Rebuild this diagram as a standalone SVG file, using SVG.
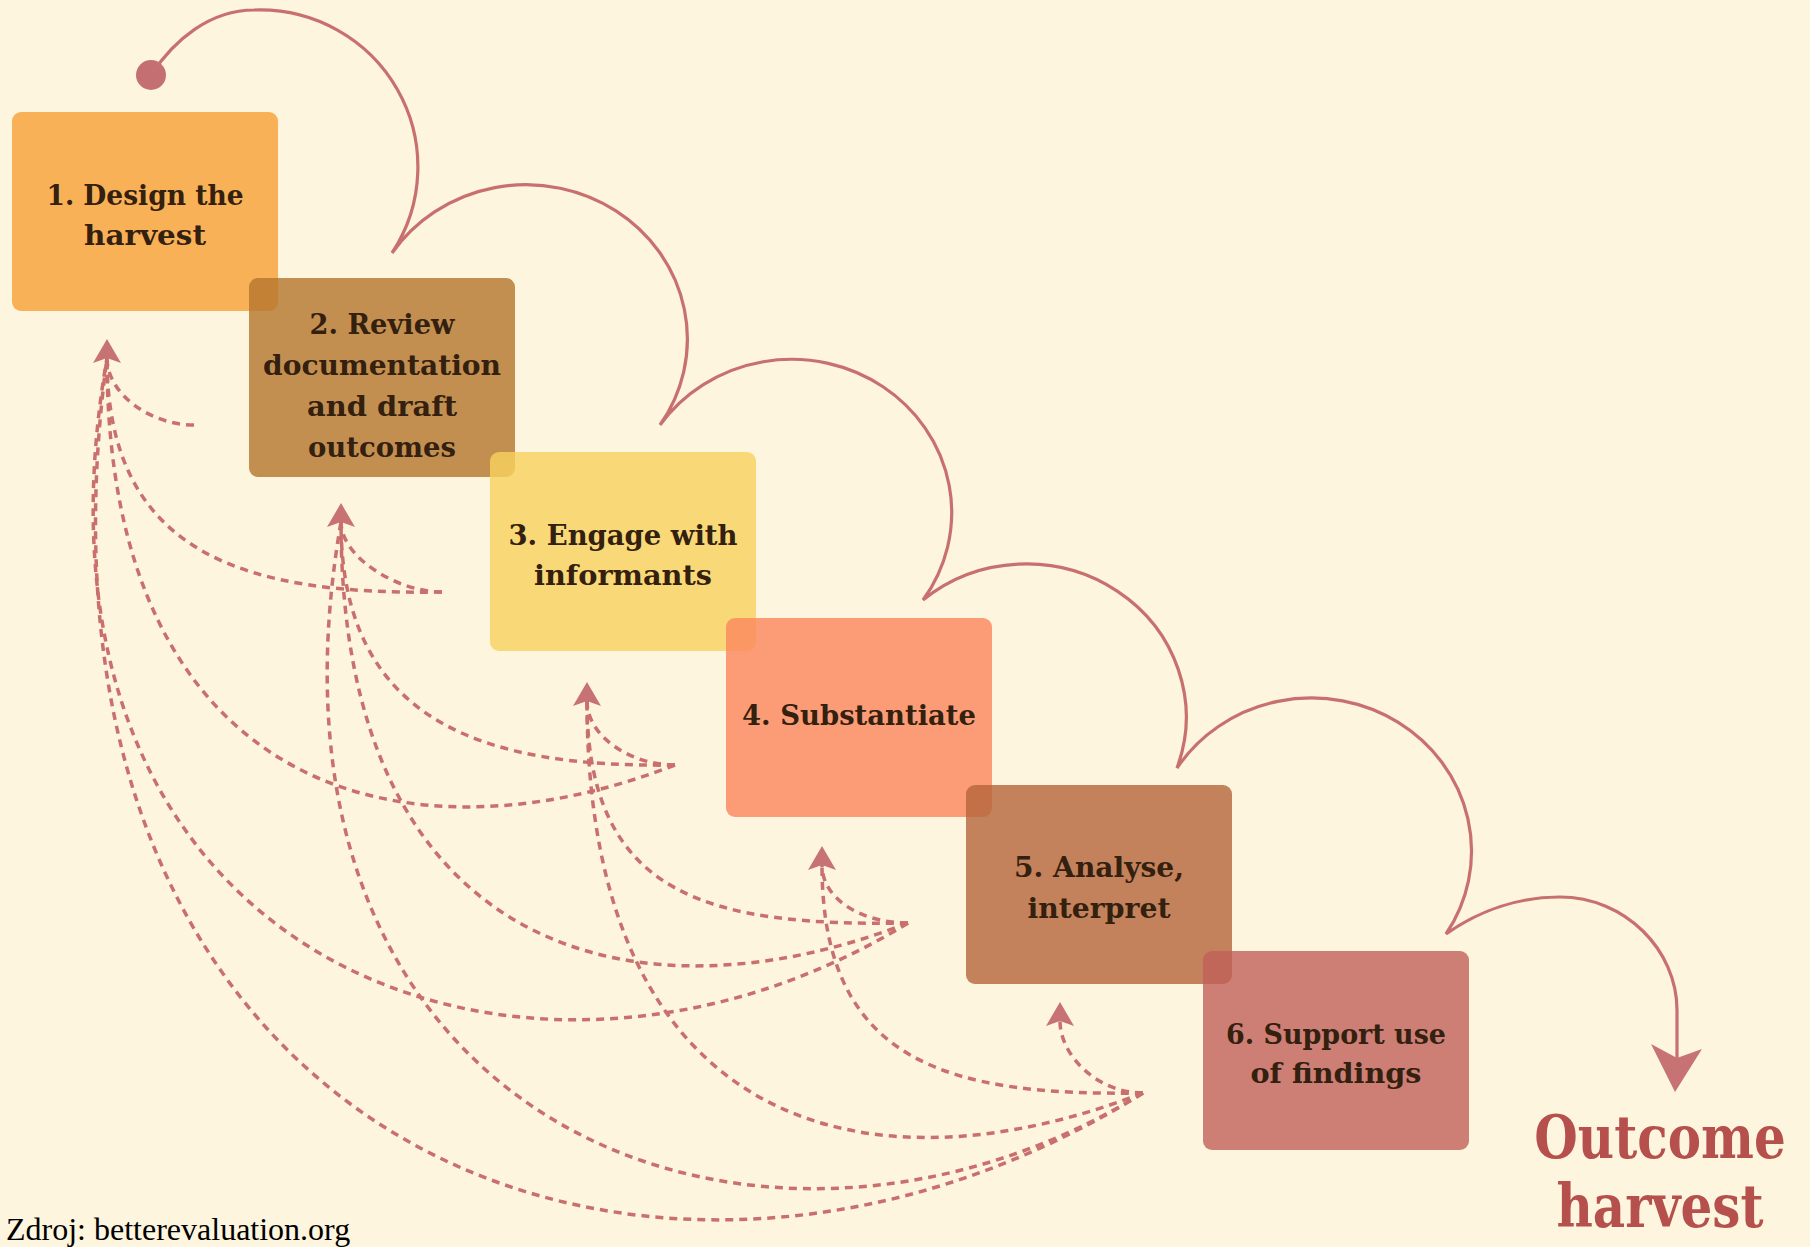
<svg xmlns="http://www.w3.org/2000/svg" width="1810" height="1247" viewBox="0 0 1810 1247">
<defs>
<style>
.lbl{font-family:"DejaVu Serif","Liberation Serif",serif;font-weight:bold;font-size:28px;fill:#33200f;text-anchor:middle}
.out{font-family:"DejaVu Serif","Liberation Serif",serif;font-weight:bold;font-size:50px;fill:#B5504D;text-anchor:middle}
.src{font-family:"Liberation Serif","Times New Roman",serif;font-size:32px;fill:#000}
.flow{fill:none;stroke:#C7706F;stroke-width:3.2}
.fb{fill:none;stroke:#C9706F;stroke-width:3.5;stroke-dasharray:8 6}
.head{fill:#C77373}
.box{fill-opacity:0.8}
</style>
<path id="ah" d="M0,0 L14,24 L0,19 L-14,24 Z"/>
</defs>
<rect width="1810" height="1247" fill="#FDF5DE"/>

<g id="nodes">
<g id="n1"><rect class="box" x="12" y="112" width="266" height="199" rx="9" fill="#F8A035"/>
<text class="lbl" x="145" y="205" textLength="197" lengthAdjust="spacingAndGlyphs">1. Design the</text>
<text class="lbl" x="145" y="245" textLength="122" lengthAdjust="spacingAndGlyphs">harvest</text></g>
<g id="n2"><rect class="box" x="249" y="278" width="266" height="199" rx="9" fill="#B4752C"/>
<text class="lbl" x="382" y="334" textLength="145" lengthAdjust="spacingAndGlyphs">2. Review</text>
<text class="lbl" x="382" y="375" textLength="238" lengthAdjust="spacingAndGlyphs">documentation</text>
<text class="lbl" x="382" y="416" textLength="150" lengthAdjust="spacingAndGlyphs">and draft</text>
<text class="lbl" x="382" y="457" textLength="148" lengthAdjust="spacingAndGlyphs">outcomes</text></g>
<g id="n3"><rect class="box" x="490" y="452" width="266" height="199" rx="9" fill="#F7D25D"/>
<text class="lbl" x="623" y="545" textLength="229" lengthAdjust="spacingAndGlyphs">3. Engage with</text>
<text class="lbl" x="623" y="585" textLength="178" lengthAdjust="spacingAndGlyphs">informants</text></g>
<g id="n4"><rect class="box" x="726" y="618" width="266" height="199" rx="9" fill="#FB865D"/>
<text class="lbl" x="859" y="725" textLength="234" lengthAdjust="spacingAndGlyphs">4. Substantiate</text></g>
<g id="n5"><rect class="box" x="966" y="785" width="266" height="199" rx="9" fill="#B46539"/>
<text class="lbl" x="1099" y="877" textLength="170" lengthAdjust="spacingAndGlyphs">5. Analyse,</text>
<text class="lbl" x="1099" y="918" textLength="143" lengthAdjust="spacingAndGlyphs">interpret</text></g>
<g id="n6"><rect class="box" x="1203" y="951" width="266" height="199" rx="9" fill="#C0605A"/>
<text class="lbl" x="1336" y="1044" textLength="220" lengthAdjust="spacingAndGlyphs">6. Support use</text>
<text class="lbl" x="1336" y="1083" textLength="171" lengthAdjust="spacingAndGlyphs">of findings</text></g>
<g id="outcome">
<text class="out" transform="translate(1660,1158) scale(1,1.18)" x="0" y="0">Outcome</text>
<text class="out" transform="translate(1660,1227) scale(1,1.18)" x="0" y="0">harvest</text></g>
</g>

<g id="connectors">
<circle cx="151" cy="75" r="15" fill="#C47072"/>
<path class="flow" d="M151,75 C174,40 210,10 254,10 A158 157 0 0 1 392,253 A160 153 0 0 1 660,425 A160 153 0 0 1 923,600 A160 153 0 0 1 1177,768 A160 153 0 0 1 1446,934 C1480,910 1520,897 1560,897 C1625,897 1677,950 1677,1010 L1677,1060"/>
<path class="head" d="M1675,1092 L1651,1044 L1677,1058 L1702,1049 Z"/>

<path class="fb" d="M194,425 C149,425 107,393 107,358"/>
<path class="fb" d="M442,592 C397,592 341,557 341,522"/>
<path class="fb" d="M675,765 C630,765 587,736 587,701"/>
<path class="fb" d="M908,923 C863,923 822,900 822,865"/>
<path class="fb" d="M1143,1093 C1098,1093 1060,1056 1060,1021"/>

<path class="fb" d="M442,592 C250,595 107,558 107,358"/>
<path class="fb" d="M675,765 C483,768 341,722 341,522"/>
<path class="fb" d="M908,923 C716,926 587,901 587,701"/>
<path class="fb" d="M1143,1093 C951,1096 822,1065 822,865"/>

<path class="fb" d="M675,765 C405,870 107,793 107,358"/>
<path class="fb" d="M908,923 C638,1028 341,957 341,522"/>
<path class="fb" d="M1143,1093 C873,1198 587,1136 587,701"/>

<path class="fb" d="M908,923 C527,1157 1,966 107,358"/>
<path class="fb" d="M1143,1093 C762,1327 235,1130 341,522"/>

<path class="fb" d="M1143,1093 C650,1400 1,1148 107,358"/>

<use href="#ah" class="head" x="107" y="339"/>
<use href="#ah" class="head" x="341" y="503"/>
<use href="#ah" class="head" x="587" y="682"/>
<use href="#ah" class="head" x="822" y="846"/>
<use href="#ah" class="head" x="1060" y="1002"/>
</g>

<text class="src" x="6" y="1240">Zdroj: betterevaluation.org</text>
</svg>
